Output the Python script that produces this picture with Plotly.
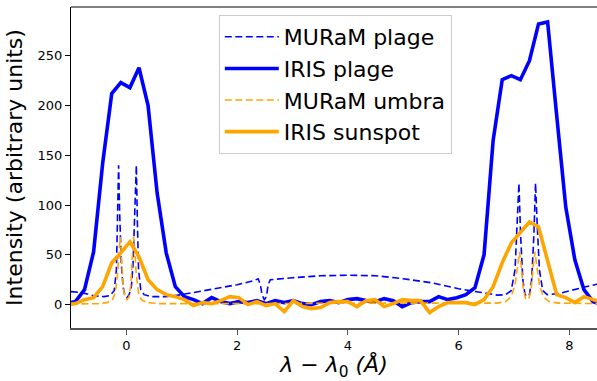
import plotly.graph_objects as go

# ---- data ----
# IRIS observed spectra (binned wavelength grid, Angstrom offsets)
iris_wl = [-1.084, -0.920, -0.756, -0.592, -0.428, -0.264, -0.100, 0.064, 0.228, 0.392,
           0.556, 0.720, 0.884, 1.048, 1.212, 1.376, 1.540, 1.704, 1.868, 2.032,
           2.196, 2.360, 2.524, 2.688, 2.852, 3.016, 3.180, 3.344, 3.508, 3.672,
           3.836, 4.000, 4.164, 4.328, 4.492, 4.656, 4.820, 4.984, 5.148, 5.312,
           5.476, 5.640, 5.804, 5.968, 6.132, 6.296, 6.460, 6.624, 6.788, 6.952,
           7.116, 7.280, 7.444, 7.608, 7.772, 7.936, 8.100, 8.264, 8.428, 8.592]
iris_plage = [1, 3, 15, 53, 142, 212, 223, 218, 238, 200,
              112, 52, 18, 8, 5, 1, 7, 3, 1, 3,
              2, 4, 1, 4, 2, 4, 1, 0, 3, 4,
              2, 5, 6, 4, 3, 6, 4, -2, 2, 3,
              3, 8, 5, 7, 10, 17, 50, 165, 226, 230,
              226, 245, 282, 284, 190, 98, 45, 15, 3, 0]
iris_sunspot = [0, 1, 5, 7, 18, 42, 52, 63, 48, 25,
                15, 10, 8, 5, -1, 2, 1, 4, 8, 7,
                0, 3, -1, 1, -7, 4, -2, -4, -3, 2,
                3, 3, -2, 4, 5, -2, 1, 5, 4, 4,
                -8, -2, 2, 2, 2, 0, 5, 18, 42, 62,
                72, 83, 78, 45, 10, 7, 2, 8, 5, 2]

# MURaM synthetic spectra
muram_plage_wl = [-1.0, -0.8, -0.6, -0.4, -0.3, -0.22, -0.18, -0.16, -0.14, -0.12,
                  -0.09, -0.06, -0.03, 0.01, 0.05, 0.09, 0.12, 0.15, 0.18, 0.20,
                  0.22, 0.26, 0.32, 0.45, 0.7, 1.0, 1.3, 1.6, 2.0, 2.3,
                  2.38, 2.42, 2.45, 2.49, 2.53, 2.56, 2.6, 3.0, 3.5, 4.0,
                  4.5, 5.0, 5.5, 6.0, 6.4, 6.7, 6.85, 6.95, 7.02, 7.06,
                  7.09, 7.12, 7.16, 7.20, 7.24, 7.28, 7.32, 7.36, 7.39, 7.42,
                  7.46, 7.52, 7.6, 7.8, 8.0, 8.3, 8.55]
muram_plage = [13, 12, 9, 8, 9, 14, 35, 80, 140, 90,
               40, 18, 10, 7, 10, 18, 40, 90, 140, 80,
               35, 15, 10, 8, 8, 10, 13, 16, 20, 24,
               26, 20, 10, 5, 8, 20, 25, 27, 29, 29.5,
               29, 26, 22, 16, 12, 9.5, 10, 14, 35, 80,
               122, 70, 25, 10, 8, 10, 25, 70, 122, 80,
               35, 14, 10, 11, 14, 18, 21]

muram_umbra_wl = [-1.0, -0.5, -0.35, -0.25, -0.2, -0.16, -0.13, -0.11, -0.09, -0.06,
                  -0.03, 0.01, 0.05, 0.08, 0.11, 0.13, 0.15, 0.18, 0.22, 0.27,
                  0.37, 0.6, 2.0, 2.45, 2.5, 2.55, 4.0, 6.0, 6.7, 6.85,
                  6.95, 7.02, 7.07, 7.10, 7.13, 7.17, 7.21, 7.24, 7.27, 7.31,
                  7.35, 7.38, 7.41, 7.46, 7.53, 7.63, 7.8, 8.55]
muram_umbra = [0.5, 1, 2, 5, 12, 30, 55, 68, 50, 20,
               8, 5, 8, 20, 50, 68, 55, 30, 12, 5,
               2, 1, 1, 1, 0, 1, 1.5, 1, 1.5, 3,
               8, 20, 40, 53, 40, 15, 6, 5, 6, 15,
               40, 53, 40, 20, 8, 3, 1.5, 1]

x_ticks = [0, 2, 4, 6, 8]
y_ticks = [0, 50, 100, 150, 200, 250]

BLUE = "#0000ff"
ORANGE = "#ffa500"
FONT = "DejaVu Sans"

fig = go.Figure()
fig.add_trace(go.Scatter(x=muram_plage_wl, y=muram_plage, mode="lines", name="MURaM plage",
                         line=dict(color=BLUE, width=1.6, dash="7px,3.5px")))
fig.add_trace(go.Scatter(x=iris_wl, y=iris_plage, mode="lines", name="IRIS plage",
                         line=dict(color=BLUE, width=3.6)))
fig.add_trace(go.Scatter(x=muram_umbra_wl, y=muram_umbra, mode="lines", name="MURaM umbra",
                         line=dict(color=ORANGE, width=1.6, dash="7px,3.5px")))
fig.add_trace(go.Scatter(x=iris_wl, y=iris_sunspot, mode="lines", name="IRIS sunspot",
                         line=dict(color=ORANGE, width=3.6)))

fig.update_layout(
    width=597, height=381,
    margin=dict(l=71, r=0, t=7, b=53),
    paper_bgcolor="white", plot_bgcolor="white",
    font=dict(family=FONT, color="black", size=13),
    showlegend=True,
    legend=dict(x=0.281, y=0.975, xanchor="left", yanchor="top",
                bgcolor="rgba(255,255,255,0.8)", bordercolor="#cccccc", borderwidth=1,
                font=dict(family=FONT, size=22, color="black"),
                itemwidth=54, tracegroupgap=0),
    xaxis=dict(range=[-1, 8.5], tickvals=x_ticks, ticktext=[str(v) for v in x_ticks],
               showgrid=False, zeroline=False, showline=True, linecolor="#555555", linewidth=1.5,
               ticks="outside", ticklen=5, tickwidth=1.2, tickcolor="#555555",
               tickfont=dict(family=FONT, size=13, color="black"),
               title=dict(text="<i>λ</i> − <i>λ</i><sub>0</sub> <i>(Å)</i>",
                          font=dict(family=FONT, size=22, color="black"), standoff=6)),
    yaxis=dict(range=[-23.5, 299], tickvals=y_ticks, ticktext=[str(v) for v in y_ticks],
               showgrid=False, zeroline=False, showline=True, linecolor="black", linewidth=1,
               ticks="outside", ticklen=5, tickwidth=1, tickcolor="black",
               tickfont=dict(family=FONT, size=13, color="black"),
               title=dict(text="Intensity (arbitrary units)",
                          font=dict(family=FONT, size=22, color="black"), standoff=8)),
    shapes=[dict(type="line", xref="paper", yref="paper", x0=0, x1=1, y0=1, y1=1,
                 line=dict(color="black", width=1))],
)

fig.write_html("out.html")
